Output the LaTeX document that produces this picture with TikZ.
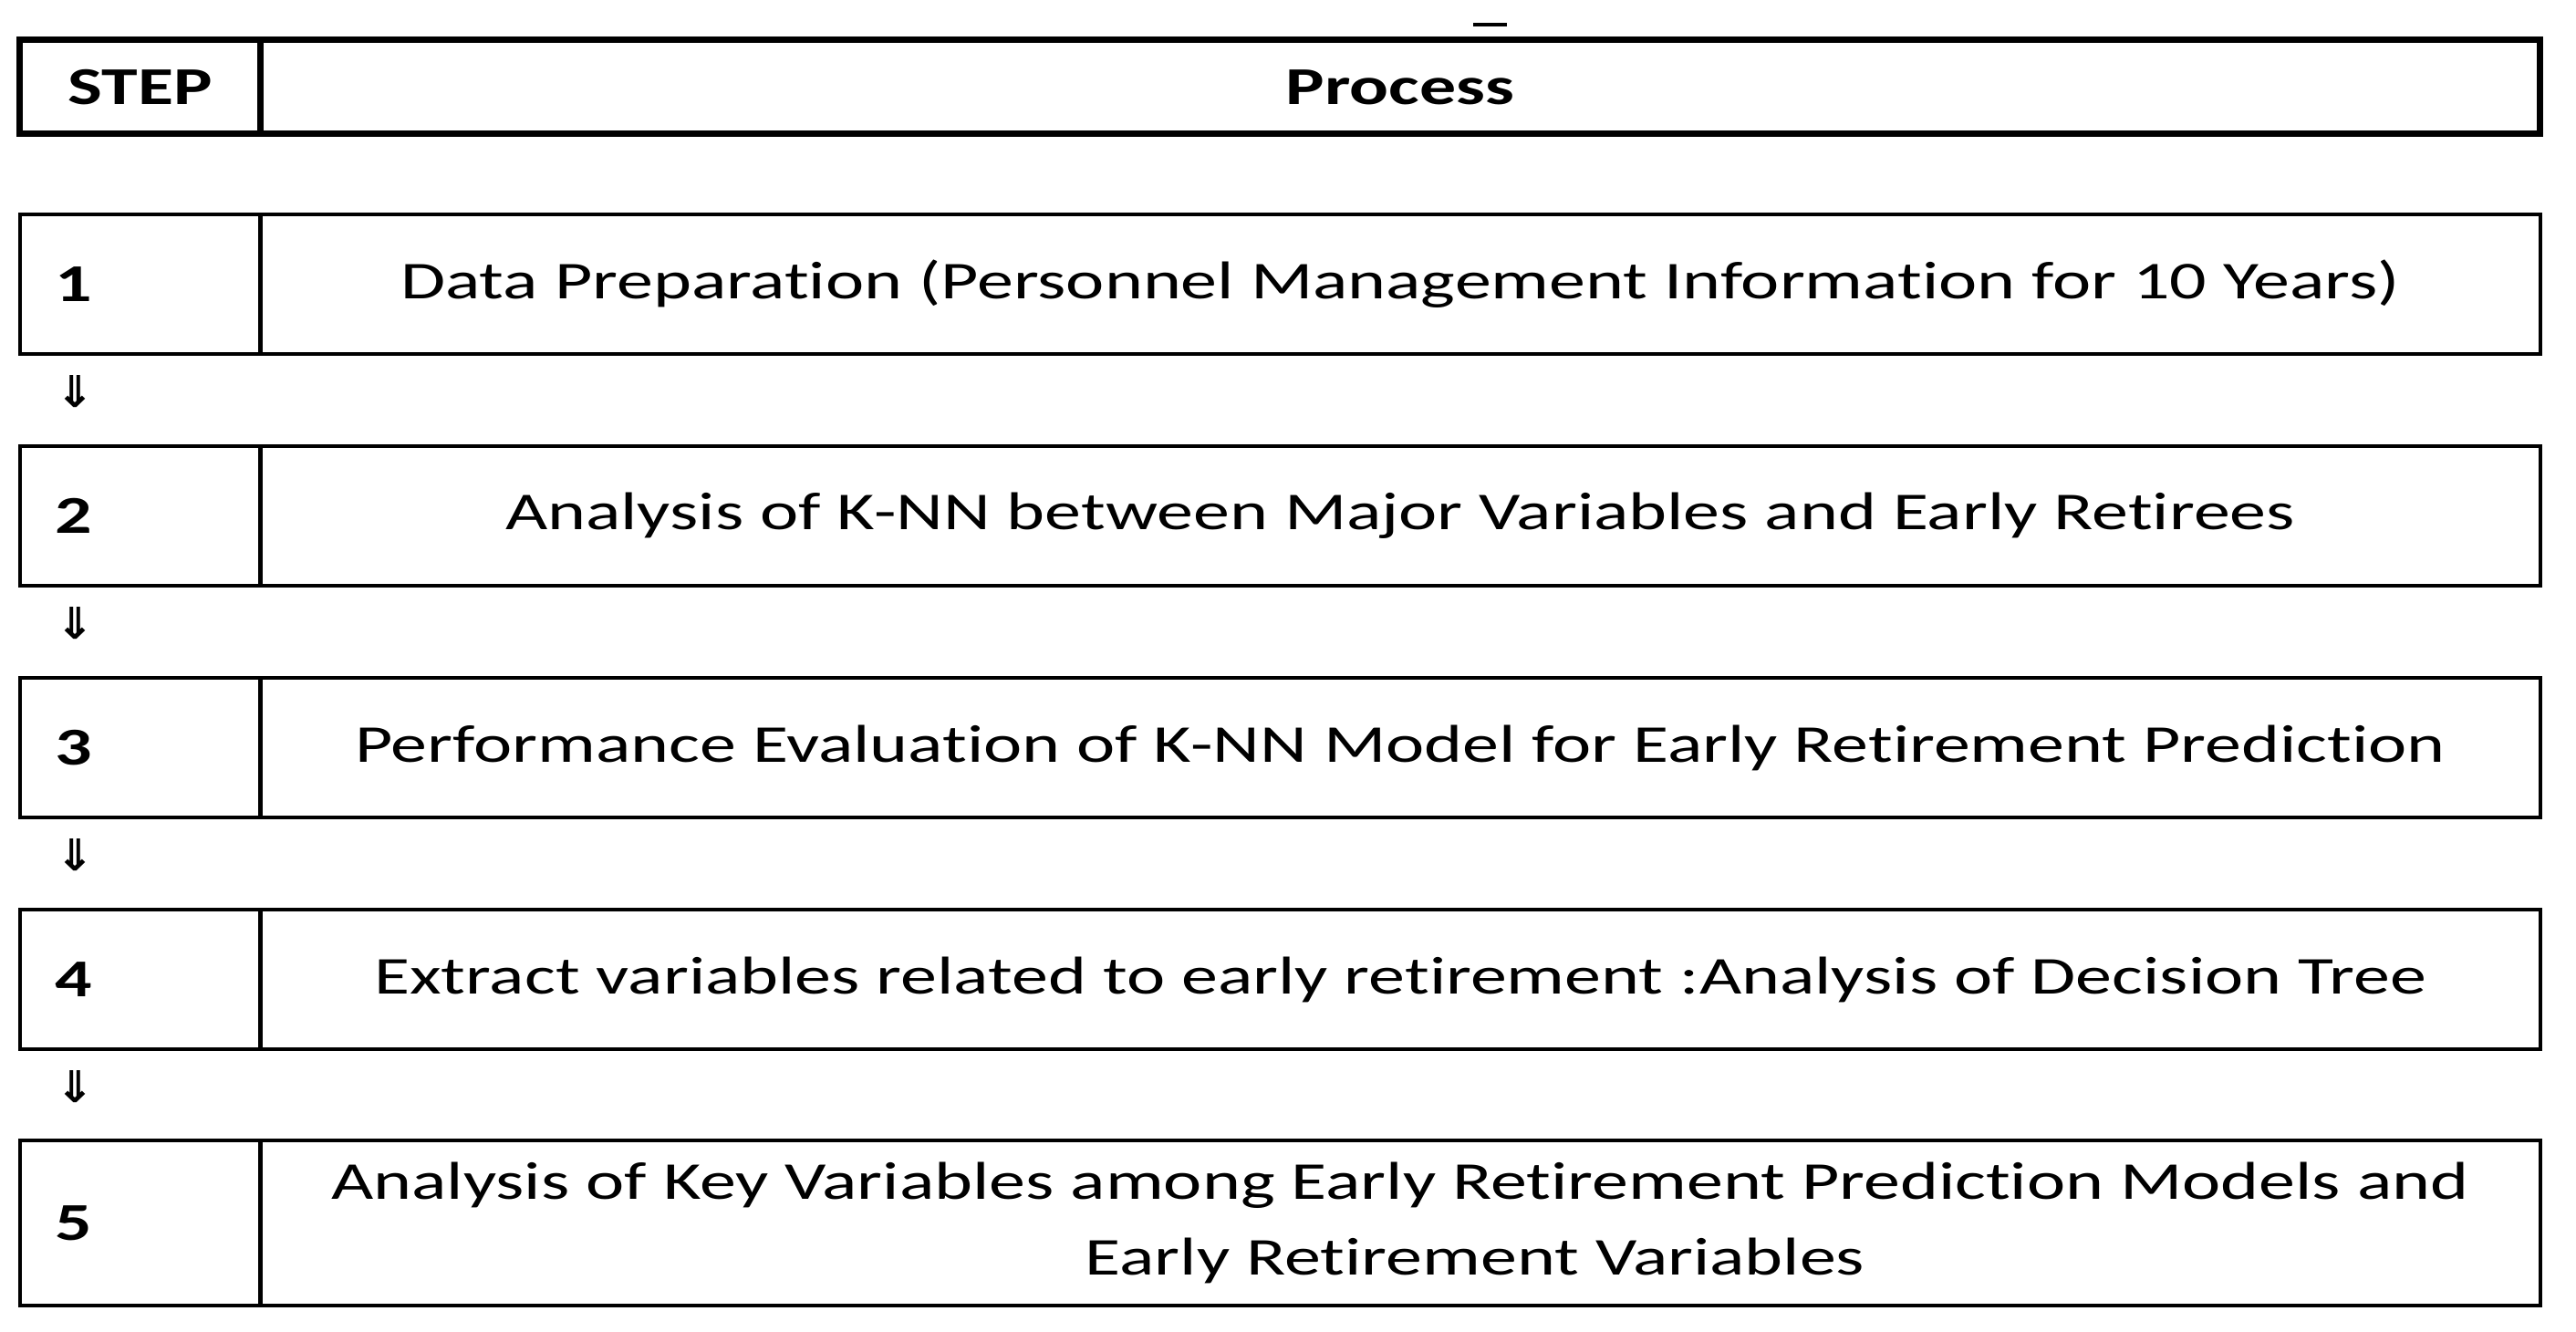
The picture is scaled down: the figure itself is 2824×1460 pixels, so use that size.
\documentclass[tikz,border=0pt]{standalone}
\usepackage{fontspec}
\usepackage{graphicx}
\setmainfont{Carlito}[FakeStretch=1.37, Ligatures=NoCommon]
\newfontfamily\arrowfont{DejaVu Sans}

\begin{document}
\begin{tikzpicture}[x=0.1mm, y=-0.1mm,
  every node/.style={font=\fontsize{16.6}{23.5}\selectfont},
  cell/.style={draw, line width=0.4mm, inner sep=0pt, minimum height=15.3mm},
  numcell/.style={cell, inner xsep=3.85mm, text width=18.7mm, align=left, font=\fontsize{16.6}{23.5}\selectfont\bfseries},
  textcell/.style={cell, minimum width=249.95mm, align=center},
  headcell/.style={draw, line width=0.7mm, inner sep=0pt, minimum height=10.3mm, font=\fontsize{16.6}{23.5}\selectfont\bfseries},
  down/.style={inner sep=0pt, font=\arrowfont\bfseries}]
\useasboundingbox (0,0) rectangle (2824,1460);

% header
\node[fill, minimum width=3.7mm, minimum height=0.35mm, inner sep=0pt] (mark) at (1633, 27) {};
\node[headcell, minimum width=26.4mm] (H) at (153.5, 95.5) {STEP};
\node[headcell, minimum width=249.95mm] (P) at (1535, 95.5) {Process};

% steps
\node[numcell] (S1) at (153.5, 311.5) {1};
\node[textcell] (T1) at (1535, 311.5) {Data Preparation (Personnel Management Information for 10 Years)};
\node[numcell] (S2) at (153.5, 565.5) {2};
\node[textcell] (T2) at (1535, 565.5) {Analysis of K-NN between Major Variables and Early Retirees};
\node[numcell] (S3) at (153.5, 819.5) {3};
\node[textcell] (T3) at (1535, 819.5) {Performance Evaluation of K-NN Model for Early Retirement Prediction};
\node[numcell] (S4) at (153.5, 1073.5) {4};
\node[textcell] (T4) at (1535, 1073.5) {Extract variables related to early retirement :Analysis of Decision Tree};
\node[numcell, minimum height=18.1mm] (S5) at (153.5, 1340.5) {5};
\node[textcell, minimum height=18.1mm] (T5) at (1535, 1340.5)
  {Analysis of Key Variables among Early Retirement Prediction Models and\\
   \hspace*{16.4mm}Early Retirement Variables};

% arrows
\node[down] (A1) at (83, 429.5) {\resizebox{4.2mm}{3.5mm}{⇓}};
\node[down] (A2) at (83, 683.5) {\resizebox{4.2mm}{3.5mm}{⇓}};
\node[down] (A3) at (83, 937.5) {\resizebox{4.2mm}{3.5mm}{⇓}};
\node[down] (A4) at (83, 1191.5) {\resizebox{4.2mm}{3.5mm}{⇓}};
\end{tikzpicture}
\end{document}
